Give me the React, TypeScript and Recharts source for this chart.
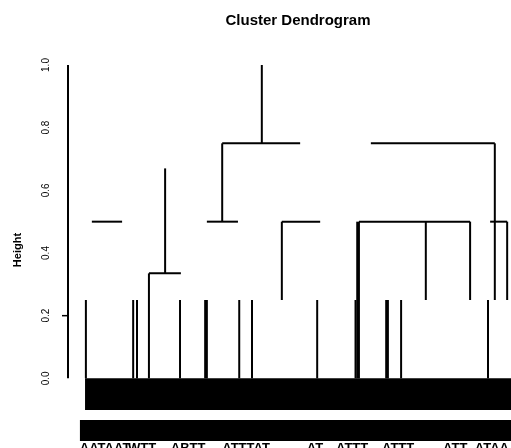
import { ComposedChart, Line, XAxis, YAxis, ReferenceArea, ReferenceLine } from "recharts";

// leaf order units on x, merge height on y
const yTicks = [0, 0.2, 0.4, 0.6, 0.8, 1.0];
const yTickLabels = ["0.0", "0.2", "0.4", "0.6", "0.8", "1.0"];
const markedTicks = [0.2];

// [from, to, height]
const joins: [number, number, number][] = [
  [1.6, 8.7, 0.5],
  [15.0, 22.5, 0.335],
  [28.6, 35.9, 0.5],
  [32.2, 50.5, 0.75],
  [46.2, 55.2, 0.5],
  [64.3, 90.4, 0.5],
  [67.1, 96.2, 0.75],
  [95.1, 99.1, 0.5],
];

// [x, bottom, top]
const branches: [number, number, number][] = [
  [41.5, 0.75, 1.0],
  [32.2, 0.5, 0.75],
  [96.2, 0.25, 0.75],
  [18.8, 0.335, 0.67],
  [15.0, 0, 0.335],
  [46.2, 0.25, 0.5],
  [63.9, 0, 0.5],
  [64.3, 0, 0.5],
  [80.0, 0.25, 0.5],
  [90.4, 0.25, 0.5],
  [99.1, 0.25, 0.5],
];

// leaf stems, from 0 up to this height
const leafX = [0.2, 11.3, 12.2, 22.3, 28.2, 28.6, 36.2, 39.2, 54.5, 63.5, 70.7, 71.1, 74.2, 94.6];
const leafTop = 0.25;

// the dense leaf mass and overlapping leaf labels
const stemBand = { x1: 0, x2: 100, y1: -0.101, y2: 0 };
const labelBand = { x1: -1.2, x2: 100, y1: -0.2, y2: -0.133 };

const labelPos = [4.7, 13.4, 24.2, 37.8, 54.0, 62.7, 73.5, 86.9, 95.5];
const labelText = ["AATAAT", "WTT", "ABTT", "ATTTAT", "AT", "ATTT", "ATTT", "ATT", "ATAA"];

const font = "'Liberation Sans', Arial, sans-serif";

const segments = [
  ...joins.map(([a, b, h]) => [{ x: a, y: h }, { x: b, y: h }]),
  ...branches.map(([x, lo, hi]) => [{ x, y: lo }, { x, y: hi }]),
  ...leafX.map((x) => [{ x, y: 0 }, { x, y: leafTop }]),
];

const YTick = ({ y, payload }: any) => {
  const i = yTicks.indexOf(payload.value);
  return (
    <g>
      <text
        x={49}
        y={y}
        transform={`rotate(-90 49 ${y})`}
        textAnchor="middle"
        fontSize={10}
        fontFamily={font}
        fill="#000"
      >
        {yTickLabels[i]}
      </text>
      {markedTicks.includes(payload.value) && (
        <line x1={62} x2={68} y1={y} y2={y} stroke="#000" strokeWidth={1.5} />
      )}
    </g>
  );
};

const XTick = ({ x, payload }: any) => {
  const i = labelPos.indexOf(payload.value);
  return (
    <text x={x} y={452} textAnchor="middle" fontSize={13} fontWeight="bold" fontFamily={font} fill="#000">
      {labelText[i]}
    </text>
  );
};

export default function App() {
  return (
    <div style={{ position: "fixed", left: 0, top: 0, width: 511, height: 448, background: "#fff" }}>
      <div
        style={{
          position: "absolute",
          left: 0,
          top: 11,
          width: 596,
          textAlign: "center",
          fontFamily: font,
          fontWeight: "bold",
          fontSize: 15,
          color: "#000",
        }}
      >
        Cluster Dendrogram
      </div>
      <ComposedChart width={511} height={448} margin={{ top: 65, right: 0, bottom: 0, left: 0 }}>
        <XAxis
          type="number"
          dataKey="x"
          domain={[-4, 100]}
          ticks={labelPos}
          interval={0}
          axisLine={false}
          tickLine={false}
          height={7}
          tick={<XTick />}
        />
        <YAxis
          type="number"
          domain={[-0.2, 1]}
          ticks={yTicks}
          interval={0}
          width={68}
          axisLine={false}
          tickLine={false}
          tick={<YTick />}
          label={{
            content: (props: any) => {
              const vb = props.viewBox || { y: 65, height: 376 };
              const cy = vb.y + vb.height / 2 - 3;
              return (
                <text
                  x={21}
                  y={cy}
                  transform={`rotate(-90 21 ${cy})`}
                  textAnchor="middle"
                  fontSize={11}
                  fontWeight="bold"
                  fontFamily={font}
                  fill="#000"
                >
                  Height
                </text>
              );
            },
          }}
        />
        <ReferenceLine
          segment={[{ x: -4, y: 0 }, { x: -4, y: 1 }]}
          stroke="#000"
          strokeWidth={2}
        />
        <ReferenceArea {...stemBand} fill="#000" fillOpacity={1} stroke="none" />
        <ReferenceArea {...labelBand} fill="#000" fillOpacity={1} stroke="none" />
        {segments.map((d, i) => (
          <Line
            key={i}
            data={d}
            dataKey="y"
            type="linear"
            stroke="#000"
            strokeWidth={2}
            strokeLinecap="butt"
            dot={false}
            activeDot={false}
            isAnimationActive={false}
          />
        ))}
      </ComposedChart>
    </div>
  );
}
